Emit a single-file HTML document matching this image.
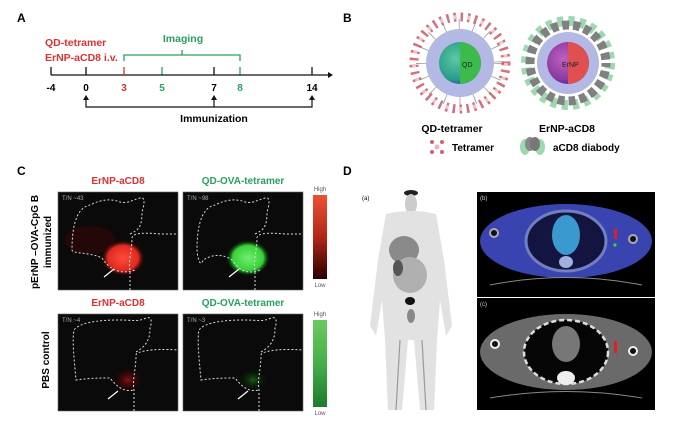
<!DOCTYPE html>
<html><head><meta charset="utf-8"><style>
body{margin:0;background:#fff}
svg{display:block;font-family:"Liberation Sans",Arial,sans-serif}
</style></head><body>
<svg width="676" height="421" viewBox="0 0 676 421">
<defs>
<radialGradient id="qd" cx="0.4" cy="0.4" r="0.7"><stop offset="0" stop-color="#5cc9a0"/><stop offset="0.7" stop-color="#2a9c8c"/><stop offset="1" stop-color="#2a3a9a"/></radialGradient>
<radialGradient id="er" cx="0.4" cy="0.4" r="0.7"><stop offset="0" stop-color="#c060c0"/><stop offset="0.7" stop-color="#8a3aa0"/><stop offset="1" stop-color="#2a2a9a"/></radialGradient>
<radialGradient id="rg" cx="0.5" cy="0.5" r="0.5"><stop offset="0" stop-color="#ff4a3a"/><stop offset="0.7" stop-color="#e02a20"/><stop offset="1" stop-color="#300" stop-opacity="0"/></radialGradient>
<radialGradient id="gg" cx="0.5" cy="0.5" r="0.5"><stop offset="0" stop-color="#70f070"/><stop offset="0.7" stop-color="#38d038"/><stop offset="1" stop-color="#030" stop-opacity="0"/></radialGradient>
<radialGradient id="rg2" cx="0.5" cy="0.5" r="0.5"><stop offset="0" stop-color="#8a1010"/><stop offset="1" stop-color="#200" stop-opacity="0"/></radialGradient>
<radialGradient id="gg2" cx="0.5" cy="0.5" r="0.5"><stop offset="0" stop-color="#1a5a1a"/><stop offset="1" stop-color="#020" stop-opacity="0"/></radialGradient>
<linearGradient id="rbar" x1="0" y1="0" x2="0" y2="1"><stop offset="0" stop-color="#f05030"/><stop offset="0.5" stop-color="#b02818"/><stop offset="1" stop-color="#2a0000"/></linearGradient>
<linearGradient id="gbar" x1="0" y1="0" x2="0" y2="1"><stop offset="0" stop-color="#6cc860"/><stop offset="0.5" stop-color="#44b048"/><stop offset="1" stop-color="#1e7a30"/></linearGradient>
</defs>

<!-- Panel A -->
<text x="17" y="22" font-size="12" font-weight="bold">A</text>
<text x="45" y="46" font-size="10.5" font-weight="bold" fill="#e03030">QD-tetramer</text>
<text x="45" y="61" font-size="10.5" font-weight="bold" fill="#e03030">ErNP-aCD8 i.v.</text>
<text x="183" y="42" font-size="10.5" font-weight="bold" fill="#2aa060" text-anchor="middle">Imaging</text>
<g stroke="#2aa060" stroke-width="1.3" fill="none"><path d="M124,61 V55 H240 V61 M182,55 V50"/><path d="M162,67 V75"/><path d="M240,67 V75"/></g>
<g stroke="#111" stroke-width="1.3"><path d="M51,75 H328"/><path d="M51,67 V75 M86,67 V75 M214,67 V75 M312,67 V75"/></g>
<path d="M124,67 V75" stroke="#e03030" stroke-width="1.3"/>
<path d="M328,72 L333,75 L328,78Z" fill="#111"/>
<g font-size="10" font-weight="bold" text-anchor="middle">
<text x="51" y="91">-4</text><text x="86" y="91">0</text><text x="124" y="91" fill="#e03030">3</text><text x="162" y="91" fill="#2aa060">5</text><text x="214" y="91">7</text><text x="240" y="91" fill="#2aa060">8</text><text x="312" y="91">14</text>
</g>
<g stroke="#111" stroke-width="1.2" fill="none"><path d="M86,98 V107 H312 V98 M214,98 V107"/></g>
<g fill="#111"><path d="M83,100 L86,95 L89,100Z"/><path d="M211,100 L214,95 L217,100Z"/><path d="M309,100 L312,95 L315,100Z"/></g>
<text x="214" y="122" font-size="10.5" font-weight="bold" text-anchor="middle">Immunization</text>

<!-- Panel B -->
<text x="343" y="22" font-size="12" font-weight="bold">B</text>
<circle cx="460" cy="63" r="38" fill="none" stroke="#999" stroke-width="12" stroke-dasharray="0.8 14"/>
<circle cx="460" cy="63" r="46" fill="none" stroke="#c85868" stroke-width="9" stroke-dasharray="2.5 4.5" opacity="0.85"/>
<circle cx="460" cy="63" r="46" fill="none" stroke="#f4c4c8" stroke-width="4" stroke-dasharray="3 11"/>
<circle cx="460" cy="63" r="34" fill="#b4b8e4"/>
<circle cx="460" cy="63" r="21" fill="url(#qd)"/>
<path d="M460,42 A21,21 0 0 1 460,84 Z" fill="#3cba4c"/>
<text x="462" y="67" font-size="7" fill="#222">QD</text>
<circle cx="568" cy="63" r="42" fill="none" stroke="#9ed8b0" stroke-width="10" stroke-dasharray="6 5"/>
<circle cx="568" cy="63" r="38" fill="none" stroke="#808080" stroke-width="9" stroke-dasharray="7 4" stroke-dashoffset="3"/>
<circle cx="568" cy="63" r="31" fill="#b4b8e4"/>
<circle cx="568" cy="63" r="21" fill="url(#er)"/>
<path d="M568,42 A21,21 0 0 1 568,84 Z" fill="#e05050"/>
<text x="562" y="67" font-size="7" fill="#222">ErNP</text>
<g font-size="10.5" font-weight="bold" text-anchor="middle"><text x="452" y="132">QD-tetramer</text><text x="567" y="132">ErNP-aCD8</text></g>
<g fill="#d06070"><circle cx="437" cy="147" r="2.5" fill="#f0b0b8"/><circle cx="432" cy="142" r="2"/><circle cx="442" cy="142" r="2"/><circle cx="432" cy="152" r="2"/><circle cx="442" cy="152" r="2"/></g>
<text x="452" y="151" font-size="10" font-weight="bold">Tetramer</text>
<ellipse cx="525" cy="147" rx="5" ry="8" fill="#9ed8b0"/><ellipse cx="540" cy="147" rx="5" ry="8" fill="#9ed8b0"/>
<ellipse cx="530" cy="144" rx="5" ry="7" fill="#888"/><ellipse cx="535" cy="144" rx="5" ry="7" fill="#777"/>
<text x="553" y="151" font-size="10" font-weight="bold">aCD8 diabody</text>

<!-- Panel C -->
<text x="17" y="175" font-size="12" font-weight="bold">C</text>
<g font-size="10" font-weight="bold" text-anchor="middle">
<text x="118" y="184" fill="#e03030">ErNP-aCD8</text><text x="243" y="184" fill="#2aa060">QD-OVA-tetramer</text>
<text x="118" y="306" fill="#e03030">ErNP-aCD8</text><text x="243" y="306" fill="#2aa060">QD-OVA-tetramer</text>
</g>
<rect x="58" y="192" width="120" height="98" fill="#0a0a0a" stroke="#666" stroke-width="0.6"/>
<rect x="183" y="192" width="120" height="98" fill="#0a0a0a" stroke="#666" stroke-width="0.6"/>
<rect x="58" y="314" width="120" height="97" fill="#0a0a0a" stroke="#666" stroke-width="0.6"/>
<rect x="183" y="314" width="120" height="97" fill="#0a0a0a" stroke="#666" stroke-width="0.6"/>
<ellipse cx="90" cy="240" rx="25" ry="14" fill="#2a0606" opacity="0.8"/>
<ellipse cx="123" cy="258" rx="22" ry="18" fill="url(#rg)"/>
<ellipse cx="248" cy="258" rx="22" ry="18" fill="url(#gg)"/>
<ellipse cx="128" cy="380" rx="16" ry="13" fill="url(#rg2)"/>
<ellipse cx="253" cy="380" rx="14" ry="11" fill="url(#gg2)"/>
<g fill="none" stroke="#ddd" stroke-width="1" stroke-dasharray="2 2">
<path d="M130,290 V270 C128,262 132,250 132,238 C132,234 140,232 160,234 L178,234 M130,234 C138,230 142,228 142,212 C144,206 146,196 140,198 C132,200 128,204 120,202 C110,198 100,200 90,205 C80,207 72,218 72,250 C72,254 90,252 102,258 C110,270 120,275 135,270"/>
<path d="M255,290 V270 C253,262 257,250 257,238 C257,234 265,232 285,234 L303,234 M255,234 C263,230 267,228 267,212 C269,206 271,196 265,198 C257,200 253,204 245,202 C235,198 225,200 215,205 C205,207 197,218 197,250 C197,254 200,270 203,260 C210,256 220,252 232,260 C240,270 245,275 260,270"/>
<path d="M134,411 V390 C132,380 136,370 136,355 C136,352 150,348 178,350 M136,352 C146,346 150,340 150,328 C152,322 152,316 146,318 C138,322 132,320 120,320 C100,320 80,322 74,330 C72,340 74,358 76,380 C90,378 100,378 110,378 C118,388 124,392 134,390"/>
<path d="M259,411 V390 C257,380 261,370 261,355 C261,352 275,348 303,350 M261,352 C271,346 275,340 275,328 C277,322 277,316 271,318 C263,322 257,320 245,320 C225,320 205,322 199,330 C197,340 199,358 201,380 C215,378 225,378 235,378 C243,388 249,392 259,390"/>
</g>
<g stroke="#fff" stroke-width="1.2"><path d="M104,277 L114,269"/><path d="M229,277 L239,269"/><path d="M108,399 L118,391"/><path d="M238,399 L248,391"/></g>
<g font-size="6" fill="#aaa"><text x="62" y="200">T/N ~43</text><text x="187" y="200">T/N ~98</text><text x="62" y="322">T/N ~4</text><text x="187" y="322">T/N ~3</text></g>
<rect x="313" y="195" width="14" height="84" fill="url(#rbar)"/>
<rect x="313" y="320" width="14" height="87" fill="url(#gbar)"/>
<g font-size="6" fill="#555" text-anchor="middle"><text x="320" y="191">High</text><text x="320" y="287">Low</text><text x="320" y="316">High</text><text x="320" y="415">Low</text></g>
<g font-size="10" font-weight="bold" text-anchor="middle">
<text transform="translate(38,242) rotate(-90)">pErNP –OVA-CpG B</text>
<text transform="translate(51,242) rotate(-90)">immunized</text>
<text transform="translate(49,360) rotate(-90)">PBS control</text>
</g>

<!-- Panel D -->
<text x="343" y="175" font-size="12" font-weight="bold">D</text>
<text x="362" y="200" font-size="6">(a)</text>
<g fill="#e2e2e2">
<ellipse cx="411" cy="193" rx="7" ry="3" fill="#222"/>
<ellipse cx="411" cy="204" rx="6" ry="10" fill="#ccc"/>
<path d="M386,214 Q411,208 436,214 L444,260 L452,326 L446,336 L440,300 L437,340 L434,410 L420,410 L414,340 L408,340 L402,410 L388,410 L385,340 L382,300 L376,336 L370,326 L378,260Z"/>
<ellipse cx="404" cy="250" rx="15" ry="14" fill="#8a8a8a"/>
<ellipse cx="410" cy="275" rx="17" ry="18" fill="#b0b0b0"/>
<ellipse cx="398" cy="268" rx="5" ry="8" fill="#555"/>
<ellipse cx="410" cy="301" rx="5" ry="4" fill="#111"/>
<ellipse cx="411" cy="316" rx="4" ry="7" fill="#888"/>
<path d="M400,340 L396,410 M422,340 L426,410" stroke="#999" stroke-width="1.2"/>
</g>
<rect x="477" y="192" width="178" height="105" fill="#000"/>
<ellipse cx="566" cy="241" rx="86" ry="37" fill="#3a44b0"/>
<ellipse cx="566" cy="241" rx="40" ry="30" fill="#141440" stroke="#7080c0" stroke-width="3"/>
<ellipse cx="566" cy="235" rx="14" ry="20" fill="#3a9ad0"/>
<ellipse cx="566" cy="262" rx="7" ry="6" fill="#a0b0e0"/>
<circle cx="494" cy="233" r="4" fill="#111" stroke="#aab" stroke-width="2"/>
<circle cx="633" cy="239" r="4" fill="#111" stroke="#aab" stroke-width="2"/>
<rect x="614" y="229" width="3" height="10" fill="#e02020"/><circle cx="615" cy="245" r="1.6" fill="#30e030"/>
<path d="M490,285 Q566,270 642,285" stroke="#888" fill="none"/>
<rect x="477" y="298" width="178" height="112" fill="#000"/>
<ellipse cx="566" cy="352" rx="86" ry="38" fill="#6a6a6a"/>
<ellipse cx="566" cy="352" rx="42" ry="32" fill="#050505" stroke="#ddd" stroke-width="2.5" stroke-dasharray="5 3"/>
<ellipse cx="566" cy="344" rx="14" ry="18" fill="#777"/>
<ellipse cx="566" cy="378" rx="9" ry="7" fill="#eee"/>
<circle cx="495" cy="344" r="4" fill="#111" stroke="#eee" stroke-width="2"/>
<circle cx="633" cy="351" r="4" fill="#111" stroke="#eee" stroke-width="2"/>
<rect x="614" y="341" width="3" height="12" fill="#e02020"/>
<path d="M490,398 Q566,385 642,398" stroke="#888" fill="none"/>
<g font-size="6" fill="#ccc"><text x="480" y="200">(b)</text><text x="480" y="306">(c)</text></g>
</svg>
</body></html>
